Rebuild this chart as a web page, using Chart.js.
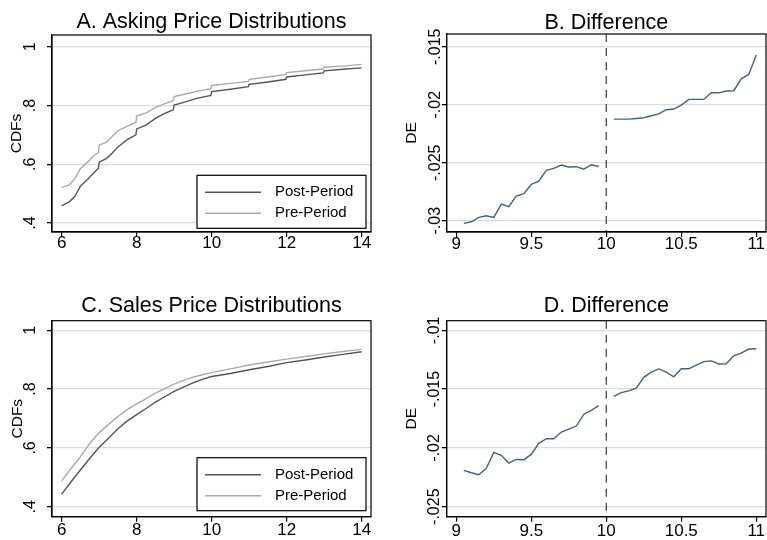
<!DOCTYPE html>
<html>
<head>
<meta charset="utf-8">
<script src="https://cdn.jsdelivr.net/npm/chart.js@4.4.1/dist/chart.umd.min.js"></script>
<style>
  body { margin: 0; background: #fff; width: 767px; height: 540px; position: relative; overflow: hidden; }
  canvas { position: absolute; }
</style>
</head>
<body>
<canvas id="pa" width="384" height="270" style="left:0;top:0"></canvas>
<canvas id="pb" width="383" height="270" style="left:384px;top:0"></canvas>
<canvas id="pc" width="384" height="270" style="left:0;top:270px"></canvas>
<canvas id="pd" width="383" height="270" style="left:384px;top:270px"></canvas>
<script>
// Asking price CDFs (step-like empirical CDF)
const askX    = [6, 6.2, 6.35, 6.5, 6.7, 6.85, 6.98, 7, 7.2, 7.35, 7.5, 7.75, 7.98, 8, 8.25, 8.5, 8.75, 8.98, 9, 9.3, 9.6, 9.98, 10, 10.5, 10.98, 11, 11.5, 11.98, 12, 12.5, 12.98, 13, 13.5, 14];
const askPost = [0.458, 0.472, 0.490, 0.525, 0.550, 0.570, 0.586, 0.607, 0.620, 0.638, 0.659, 0.684, 0.700, 0.720, 0.733, 0.756, 0.773, 0.785, 0.801, 0.812, 0.824, 0.834, 0.847, 0.855, 0.864, 0.872, 0.880, 0.889, 0.897, 0.904, 0.911, 0.918, 0.923, 0.928];
const askPre  = [0.521, 0.530, 0.550, 0.585, 0.608, 0.628, 0.640, 0.665, 0.675, 0.695, 0.714, 0.730, 0.742, 0.764, 0.775, 0.793, 0.806, 0.816, 0.830, 0.839, 0.848, 0.857, 0.868, 0.875, 0.882, 0.889, 0.897, 0.906, 0.912, 0.918, 0.924, 0.930, 0.934, 0.940];

// Sales price CDFs
const saleX    = [6, 6.25, 6.5, 6.75, 7, 7.25, 7.5, 7.75, 8, 8.25, 8.5, 8.75, 9, 9.25, 9.5, 9.75, 10, 10.5, 11, 11.5, 12, 12.5, 13, 13.5, 14];
const salePost = [0.443, 0.485, 0.525, 0.565, 0.602, 0.633, 0.665, 0.692, 0.713, 0.734, 0.756, 0.774, 0.792, 0.807, 0.821, 0.833, 0.843, 0.853, 0.866, 0.877, 0.890, 0.899, 0.909, 0.918, 0.927];
const salePre  = [0.488, 0.530, 0.570, 0.616, 0.652, 0.680, 0.707, 0.730, 0.750, 0.768, 0.786, 0.802, 0.817, 0.830, 0.841, 0.849, 0.856, 0.869, 0.882, 0.892, 0.902, 0.911, 0.920, 0.928, 0.935];

// Differences, below and above the cutoff
const diffXLow  = [9.05, 9.1, 9.15, 9.2, 9.25, 9.3, 9.35, 9.4, 9.45, 9.5, 9.55, 9.6, 9.65, 9.7, 9.75, 9.8, 9.85, 9.9, 9.95];
const diffXHigh = [10.05, 10.1, 10.15, 10.2, 10.25, 10.3, 10.35, 10.4, 10.45, 10.5, 10.55, 10.6, 10.65, 10.7, 10.75, 10.8, 10.85, 10.9, 10.95, 11];
const askDiffLow  = [-0.03023, -0.03009, -0.02971, -0.02957, -0.02971, -0.02856, -0.02879, -0.02787, -0.02767, -0.02687, -0.02658, -0.02566, -0.02549, -0.02520, -0.02537, -0.02534, -0.02555, -0.02517, -0.02532];
const askDiffHigh = [-0.02124, -0.02124, -0.02124, -0.02118, -0.02112, -0.02095, -0.02078, -0.02043, -0.02037, -0.02003, -0.01954, -0.01954, -0.01954, -0.01897, -0.01897, -0.01882, -0.01879, -0.01776, -0.01739, -0.01572];
const saleDiffLow  = [-0.02191, -0.02211, -0.02228, -0.02174, -0.02038, -0.02063, -0.02129, -0.02098, -0.02100, -0.02055, -0.01961, -0.01922, -0.01922, -0.01865, -0.01840, -0.01814, -0.01715, -0.01681, -0.01641];
const saleDiffHigh = [-0.01562, -0.01530, -0.01515, -0.01492, -0.01400, -0.01356, -0.01328, -0.01355, -0.01395, -0.01327, -0.01327, -0.01296, -0.01266, -0.01260, -0.01286, -0.01284, -0.01216, -0.01193, -0.01159, -0.01156];
const cutoff = 10;

// Tick values and labels
const cdfXTicks = [6, 8, 10, 12, 14];
const cdfYTicks = [0.4, 0.6, 0.8, 1];
const cdfYLabels = ['.4', '.6', '.8', '1'];
const diffXTicks = [9, 9.5, 10, 10.5, 11];
const askDiffYTicks = [-0.03, -0.025, -0.02, -0.015];
const askDiffYLabels = ['-.03', '-.025', '-.02', '-.015'];
const saleDiffYTicks = [-0.025, -0.02, -0.015, -0.01];
const saleDiffYLabels = ['-.025', '-.02', '-.015', '-.01'];

const FONT = '"Liberation Sans", Arial, Helvetica, sans-serif';
const POST = '#555555', PRE = '#aaaaaa', BLUE = '#3b668b';

const pts = (xs, ys) => xs.map((x, i) => ({ x, y: ys[i] }));

// black box round the plot region
const frame = {
  id: 'frame',
  afterDraw(chart) {
    const { ctx, chartArea: a } = chart;
    ctx.save();
    ctx.strokeStyle = '#000';
    ctx.lineWidth = 1.2;
    ctx.strokeRect(a.left, a.top, a.right - a.left, a.bottom - a.top);
    ctx.restore();
  }
};

// legend drawn inside the plot, bottom right
const boxLegend = {
  id: 'boxLegend',
  afterDatasetsDraw(chart, args, opts) {
    if (!opts || !opts.show) return;
    const { ctx, chartArea: a } = chart;
    const w = 169, h = 53;
    const x0 = a.right - 5, y0 = a.bottom - opts.bottomGap;
    const left = x0 - w, top = y0 - h;
    ctx.save();
    ctx.fillStyle = '#fff';
    ctx.fillRect(left, top, w, h);
    ctx.strokeStyle = '#000';
    ctx.lineWidth = 1.2;
    ctx.strokeRect(left, top, w, h);
    chart.data.datasets.slice(0, 2).forEach((ds, i) => {
      const y = top + 17 + i * 21;
      ctx.strokeStyle = ds.borderColor;
      ctx.lineWidth = 1.4;
      ctx.beginPath();
      ctx.moveTo(left + 8, y);
      ctx.lineTo(left + 64, y);
      ctx.stroke();
      ctx.fillStyle = '#000';
      ctx.font = '15px ' + FONT;
      ctx.textBaseline = 'middle';
      ctx.fillText(ds.label, left + 78, y);
    });
    ctx.restore();
  }
};

function panel(id, o) {
  return new Chart(document.getElementById(id), {
    type: 'line',
    data: { datasets: o.datasets },
    options: {
      responsive: false,
      animation: false,
      layout: { padding: { left: 0, right: o.padRight, top: 0, bottom: 0 } },
      elements: { point: { radius: 0 }, line: { borderWidth: 1.4, tension: 0 } },
      plugins: {
        legend: { display: false },
        tooltip: { enabled: false },
        title: {
          display: true, text: o.title, fullSize: false, color: '#000',
          font: { family: FONT, size: 21.5, weight: 'normal', lineHeight: 1 },
          padding: { top: o.titleTop, bottom: o.titleBottom }
        },
        boxLegend: o.legend || { show: false }
      },
      scales: {
        x: {
          type: 'linear', min: o.xMin, max: o.xMax,
          afterBuildTicks: s => { s.ticks = o.xTicks.map(v => ({ value: v })); },
          afterFit: s => { s.height = o.xHeight; s.paddingLeft = 0; s.paddingRight = 0; },
          grid: { drawOnChartArea: false, tickLength: 5, tickColor: '#000', lineWidth: 1.2 },
          border: { color: '#000', width: 1.2 },
          ticks: {
            color: '#000', font: { family: FONT, size: 17, lineHeight: 1 },
            padding: o.xLabelGap - 5 - 8.5, maxRotation: 0, autoSkip: false,
            callback: v => String(v)
          }
        },
        y: {
          type: 'linear', min: o.yMin, max: o.yMax,
          afterBuildTicks: s => { s.ticks = o.yTicks.map(v => ({ value: v })); },
          afterFit: s => { s.width = o.yWidth; s.paddingTop = 0; s.paddingBottom = 0; },
          grid: { color: '#dcdcdc', lineWidth: 1.3, tickColor: '#000', tickLength: 5 },
          border: { color: '#000', width: 1.2 },
          ticks: {
            color: '#000', font: { family: FONT, size: 16 },
            minRotation: 90, maxRotation: 90, crossAlign: 'center', autoSkip: false,
            padding: o.yPad,
            callback: (v, i) => o.yLabels[i]
          },
          title: {
            display: true, text: o.yTitle, color: '#000',
            font: { family: FONT, size: 15.5, lineHeight: 1.2 },
            padding: { top: o.yTitleTop, bottom: 0 }
          }
        }
      }
    },
    plugins: [boxLegend, frame]
  });
}

const cdfSets = (xs, post, pre) => [
  { label: 'Post-Period', data: pts(xs, post), borderColor: POST },
  { label: 'Pre-Period', data: pts(xs, pre), borderColor: PRE }
];
const diffSets = (low, high, yTop, yBot) => [
  { data: pts(diffXLow, low), borderColor: BLUE },
  { data: pts(diffXHigh, high), borderColor: BLUE },
  { data: [{ x: cutoff, y: yTop }, { x: cutoff, y: yBot }], borderColor: '#474747', borderWidth: 1.3, borderDash: [8, 6] }
];

panel('pa', {
  title: 'A. Asking Price Distributions', titleTop: 11.5, titleBottom: 2,
  datasets: cdfSets(askX, askPost, askPre),
  xMin: 5.742, xMax: 14.25, xTicks: cdfXTicks, xHeight: 38, xLabelGap: 11.5,
  yMin: 0.3694, yMax: 1.0398, yTicks: cdfYTicks, yLabels: cdfYLabels,
  yWidth: 52, yPad: 9.3, yTitle: 'CDFs', yTitleTop: 7.7, padRight: 13,
  legend: { show: true, bottomGap: 3.7 }
});
panel('pb', {
  title: 'B. Difference', titleTop: 12, titleBottom: 0.5,
  datasets: diffSets(askDiffLow, askDiffHigh, -0.0139, -0.03097),
  xMin: 8.936, xMax: 11.065, xTicks: diffXTicks, xHeight: 38, xLabelGap: 12.3,
  yMin: -0.03097, yMax: -0.0139, yTicks: askDiffYTicks, yLabels: askDiffYLabels,
  yWidth: 62.7, yPad: -12.5, yTitle: 'DE', yTitleTop: 18.2, padRight: 1
});
panel('pc', {
  title: 'C. Sales Price Distributions', titleTop: 25.5, titleBottom: 3.7,
  datasets: cdfSets(saleX, salePost, salePre),
  xMin: 5.742, xMax: 14.25, xTicks: cdfXTicks, xHeight: 23.3, xLabelGap: 13.2,
  yMin: 0.366, yMax: 1.0327, yTicks: cdfYTicks, yLabels: cdfYLabels,
  yWidth: 52, yPad: 9.3, yTitle: 'CDFs', yTitleTop: 8.7, padRight: 13,
  legend: { show: true, bottomGap: 6 }
});
panel('pd', {
  title: 'D. Difference', titleTop: 25.5, titleBottom: 3.7,
  datasets: diffSets(saleDiffLow, saleDiffHigh, -0.00918, -0.02585),
  xMin: 8.936, xMax: 11.065, xTicks: diffXTicks, xHeight: 23.3, xLabelGap: 14.3,
  yMin: -0.02585, yMax: -0.00918, yTicks: saleDiffYTicks, yLabels: saleDiffYLabels,
  yWidth: 62.7, yPad: -11.5, yTitle: 'DE', yTitleTop: 18.2, padRight: 1
});
</script>
</body>
</html>
